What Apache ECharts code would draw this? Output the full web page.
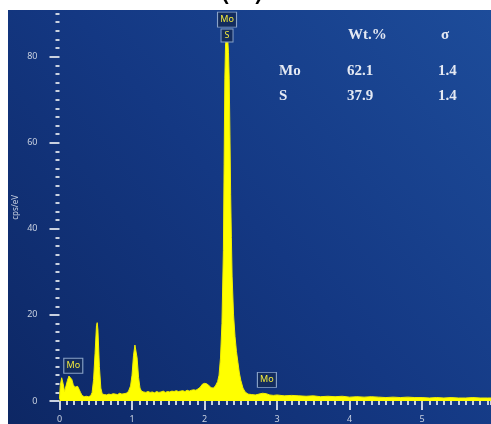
<!DOCTYPE html>
<html>
<head>
<meta charset="utf-8">
<script src="https://cdn.jsdelivr.net/npm/echarts@6/dist/echarts.min.js"></script>
<style>
  html, body { margin: 0; padding: 0; background: #ffffff; }
  #chart { width: 491px; height: 424px; }
</style>
</head>
<body>
<div id="chart"></div>
<script>
// EDS spectrum: energy (keV) and intensity (cps/eV)
const energy = [
  0.00, 0.01, 0.03, 0.05, 0.07, 0.09, 0.11, 0.13, 0.15, 0.17, 0.19, 0.21, 0.23, 0.25, 0.27, 0.29,
  0.31, 0.34, 0.37, 0.40, 0.43, 0.45, 0.47, 0.49, 0.51, 0.52, 0.53, 0.55, 0.57, 0.59, 0.62, 0.65,
  0.68, 0.71, 0.74, 0.77, 0.80, 0.83, 0.86, 0.89, 0.92, 0.95, 0.98, 1.00, 1.02, 1.04, 1.05, 1.07,
  1.09, 1.11, 1.13, 1.16, 1.19, 1.22, 1.25, 1.28, 1.31, 1.34, 1.37, 1.40, 1.43, 1.46, 1.49, 1.52,
  1.55, 1.58, 1.61, 1.64, 1.67, 1.70, 1.73, 1.76, 1.79, 1.82, 1.85, 1.88, 1.91, 1.94, 1.97, 2.00,
  2.03, 2.06, 2.09, 2.12, 2.15, 2.18, 2.20, 2.22, 2.24, 2.26, 2.27, 2.28, 2.29, 2.30, 2.31, 2.32,
  2.33, 2.34, 2.35, 2.36, 2.37, 2.38, 2.40, 2.42, 2.44, 2.46, 2.48, 2.50, 2.53, 2.56, 2.60, 2.65,
  2.70, 2.75, 2.80, 2.85, 2.90, 2.95, 3.00, 3.10, 3.20, 3.30, 3.40, 3.50, 3.60, 3.70, 3.80, 3.90,
  4.00, 4.10, 4.20, 4.30, 4.40, 4.50, 4.60, 4.70, 4.80, 4.90, 5.00, 5.10, 5.20, 5.30, 5.40, 5.50,
  5.60, 5.70, 5.80, 5.90, 5.95
];
const counts = [
  0.5, 3.5, 5.4, 4.0, 2.2, 2.5, 4.8, 5.8, 6.0, 5.0, 3.8, 3.2, 3.6, 3.4, 3.1, 2.0,
  1.3, 1.0, 1.1, 1.0, 1.2, 2.0, 5.0, 11.0, 17.5, 18.2, 16.5, 8.0, 3.0, 1.6, 1.5, 1.4,
  1.6, 1.5, 1.7, 1.6, 1.5, 1.8, 1.6, 1.7, 1.8, 2.2, 3.5, 6.0, 10.5, 13.0, 12.8, 10.0,
  5.5, 3.0, 2.3, 2.1, 2.0, 2.2, 2.0, 2.1, 1.9, 2.2, 2.0, 2.1, 2.3, 2.0, 2.2, 2.1,
  2.3, 2.2, 2.4, 2.2, 2.3, 2.4, 2.2, 2.5, 2.3, 2.5, 2.6, 2.5, 2.8, 3.2, 3.9, 4.1,
  4.0, 3.6, 3.1, 3.0, 3.5, 4.5, 6.0, 10.0, 18.0, 35.0, 55.0, 75.0, 83.0, 85.0, 85.0, 84.0,
  81.0, 75.0, 62.0, 48.0, 38.0, 29.0, 20.0, 15.0, 11.5, 9.0, 6.5, 4.8, 3.0, 2.1, 1.6, 1.5,
  1.4, 1.6, 1.8, 1.7, 1.4, 1.3, 1.4, 1.2, 1.3, 1.2, 1.1, 1.2, 1.0, 1.1, 1.0, 1.1,
  0.9, 1.0, 0.9, 1.0, 0.9, 0.8, 0.9, 0.8, 0.9, 0.8, 0.8, 0.7, 0.8, 0.7, 0.8, 0.7,
  0.7, 0.8, 0.7, 0.7, 0.7
];

// Axis ticks
const xMajorTicks = [0, 1, 2, 3, 4, 5];
const yMajorTicks = [0, 20, 40, 60, 80];

// Element markers (line energy, marker height)
const markerNames = ['Mo', 'S', 'Mo', 'Mo'];
const markerEnergy = [2.31, 2.31, 0.19, 2.86];
const markerHeight = [88.6, 84.9, 8.2, 4.9];

// Quantification table
const tableElements = ['Mo', 'S'];
const tableWt = ['62.1', '37.9'];
const tableSigma = ['1.4', '1.4'];

const chart = echarts.init(document.getElementById('chart'), null, { renderer: 'canvas' });

const spectrum = energy.map((e, i) => [e, counts[i]]);

const markerSizes = { 'Mo': [19, 15], 'S': [12, 13] };

const tickColor = '#c9d1e0';
const tableFont = 'bold 15px "Liberation Serif", "DejaVu Serif", serif';
const tableColor = '#e4e9f3';

const graphics = [
  {
    type: 'text', z: -20,
    style: { text: '(b)', x: 242, y: 8, fill: '#000', font: '34px "DejaVu Sans", sans-serif',
      textAlign: 'center', textVerticalAlign: 'bottom' }
  },
  {
    type: 'rect', z: -10,
    shape: { x: 8, y: 10, width: 483, height: 414 },
    style: {
      fill: new echarts.graphic.LinearGradient(0, 1, 1, 0, [
        { offset: 0, color: '#0d2764' },
        { offset: 0.5, color: '#143883' },
        { offset: 1, color: '#1d4c9a' }
      ])
    }
  },
  { type: 'text', style: { text: 'Wt.%', x: 348, y: 35, fill: tableColor, font: tableFont, textVerticalAlign: 'middle' } },
  { type: 'text', style: { text: 'σ', x: 441, y: 35, fill: tableColor, font: tableFont, textVerticalAlign: 'middle' } }
];
tableElements.forEach((el, i) => {
  const y = 71 + i * 25;
  graphics.push({ type: 'text', style: { text: el, x: 279, y, fill: tableColor, font: tableFont, textVerticalAlign: 'middle' } });
  graphics.push({ type: 'text', style: { text: tableWt[i], x: 347, y, fill: tableColor, font: tableFont, textVerticalAlign: 'middle' } });
  graphics.push({ type: 'text', style: { text: tableSigma[i], x: 438, y, fill: tableColor, font: tableFont, textVerticalAlign: 'middle' } });
});

const option = {
  backgroundColor: '#ffffff',
  animation: false,
  graphic: graphics,
  grid: { left: 59.5, right: 0, top: 13.6, bottom: 19.7, containLabel: false },
  xAxis: [
    {
      type: 'value', min: 0, max: 5.95, interval: 0.1,
      axisLine: { show: false, onZero: false },
      axisTick: { show: true, length: 4, lineStyle: { color: tickColor, width: 2 } },
      axisLabel: { show: false },
      splitLine: { show: false }
    },
    {
      type: 'value', min: 0, max: 5.95, position: 'bottom',
      axisLine: { show: false, onZero: false },
      axisTick: { show: true, length: 9, customValues: xMajorTicks, lineStyle: { color: tickColor, width: 2 } },
      axisLabel: { show: true, customValues: xMajorTicks, color: tickColor, fontSize: 9, margin: 14,
        fontFamily: '"Noto Sans", sans-serif' },
      splitLine: { show: false }
    }
  ],
  yAxis: [
    {
      type: 'value', min: 0, max: 90, interval: 2, offset: 9,
      name: 'cps/eV', nameLocation: 'middle', nameRotate: 90, nameGap: 31,
      nameTextStyle: { color: tickColor, fontSize: 8, fontFamily: '"Noto Sans", sans-serif' },
      axisLine: { show: false },
      axisTick: { show: true, length: 4, lineStyle: { color: tickColor, width: 2 } },
      axisLabel: { show: false },
      splitLine: { show: false }
    },
    {
      type: 'value', min: 0, max: 90, position: 'left', offset: 9,
      axisLine: { show: false },
      axisTick: { show: true, length: 10, customValues: yMajorTicks, lineStyle: { color: tickColor, width: 2 } },
      axisLabel: { show: true, customValues: yMajorTicks, color: tickColor, fontSize: 9, margin: 13,
        fontFamily: '"Noto Sans", sans-serif' },
      splitLine: { show: false }
    }
  ],
  series: [
    {
      type: 'line',
      xAxisIndex: 0, yAxisIndex: 0,
      data: spectrum,
      showSymbol: false,
      smooth: false,
      lineStyle: { color: '#f2ee00', width: 1 },
      areaStyle: { color: '#ffff00', opacity: 1 },
      markPoint: {
        symbol: 'rect',
        itemStyle: { color: '#132c5e', borderColor: '#8aa3c8', borderWidth: 1 },
        label: { show: true, position: 'inside', color: '#f2ea3c', fontSize: 9,
          fontFamily: '"Noto Sans", sans-serif', formatter: p => p.name },
        data: markerNames.map((n, i) => ({
          name: n,
          coord: [markerEnergy[i], markerHeight[i]],
          symbolSize: markerSizes[n]
        }))
      }
    }
  ]
};

chart.setOption(option);
</script>
</body>
</html>
